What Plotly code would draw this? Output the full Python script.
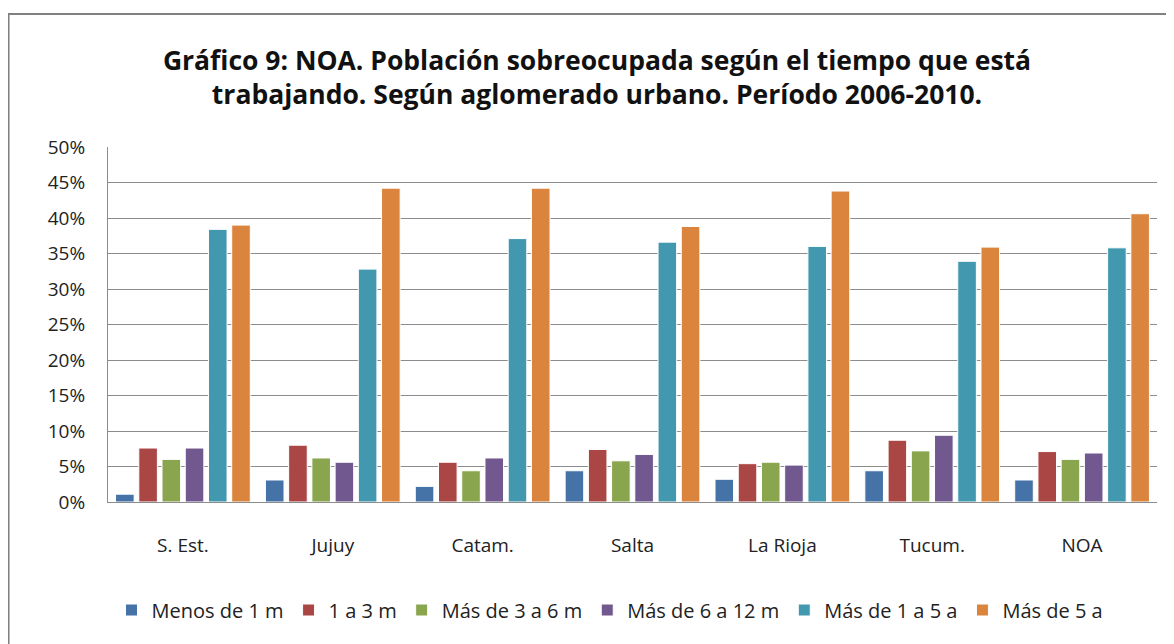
import plotly.graph_objects as go

categories = ["S. Est.", "Jujuy", "Catam.", "Salta", "La Rioja", "Tucum.", "NOA"]
series_names = ["Menos de 1 m", "1 a 3 m", "Más de 3 a 6 m", "Más de 6 a 12 m", "Más de 1 a 5 a", "Más de 5 a"]
menos_1m = [1.1, 3.1, 2.2, 4.4, 3.2, 4.4, 3.1]
de_1_a_3m = [7.6, 8.0, 5.6, 7.4, 5.4, 8.7, 7.1]
de_3_a_6m = [6.0, 6.2, 4.4, 5.8, 5.6, 7.2, 6.0]
de_6_a_12m = [7.6, 5.6, 6.2, 6.7, 5.2, 9.4, 6.9]
de_1_a_5a = [38.4, 32.8, 37.1, 36.6, 36.0, 33.9, 35.8]
mas_5a = [39.0, 44.2, 44.2, 38.8, 43.8, 35.9, 40.6]
yticks = [0, 5, 10, 15, 20, 25, 30, 35, 40, 45, 50]
ytick_labels = [f"{v}%" for v in yticks]

values = [menos_1m, de_1_a_3m, de_3_a_6m, de_6_a_12m, de_1_a_5a, mas_5a]
colors = ["#4572A7", "#AA4643", "#89A54E", "#71588F", "#4198AF", "#DB843D"]

font_family = "'Open Sans', Lato, sans-serif"

fig = go.Figure()
for name, vals, col in zip(series_names, values, colors):
    fig.add_trace(go.Bar(
        x=categories, y=vals, name=name,
        marker=dict(color=col, line=dict(color="white", width=1)),
    ))

# page is offset by the default 8px body margin
OFF = 8
W, H = 1174 - OFF, 644 - OFF
ml, mt = 108 - OFF, 147 - OFF
pw, ph = 1049, 355
mr = W - ml - pw
mb = H - mt - ph
base = mt + ph  # fig pixel of y=0

fig.update_layout(
    width=W, height=H,
    margin=dict(l=ml, r=mr, t=mt, b=mb),
    paper_bgcolor="white", plot_bgcolor="white",
    barmode="group", bargap=0.07, bargroupgap=0.2,
    font=dict(family=font_family, size=19, color="#222222"),
    title=dict(
        text="<b>Gráfico 9: NOA. Población sobreocupada según el tiempo que está<br>trabajando. Según aglomerado urbano. Período 2006-2010.</b>",
        x=(597 - OFF) / W, xanchor="center", y=1 - (70 - OFF) / H, yanchor="middle",
        font=dict(family=font_family, size=26.5, color="#111111"),
    ),
    xaxis=dict(
        showline=True, linecolor="#8c8c8c", linewidth=1,
        ticks="", tickfont=dict(size=19, color="#222222"),
        showgrid=False, ticklabelstandoff=26,
    ),
    yaxis=dict(
        range=[0, 50], tickvals=yticks, ticktext=ytick_labels,
        showgrid=True, gridcolor="#8c8c8c", gridwidth=1,
        showline=True, linecolor="#8c8c8c", linewidth=1,
        ticks="", tickfont=dict(size=19, color="#222222"),
        zeroline=False, ticklabelstandoff=18,
    ),
    legend=dict(
        orientation="h", x=(610 - OFF - ml) / pw, xanchor="center",
        y=-((610 - OFF) - base) / ph, yanchor="middle",
        font=dict(size=20, color="#222222"), traceorder="normal",
    ),
    showlegend=True,
)

fig.add_shape(
    type="rect", xref="paper", yref="paper",
    x0=(8 - OFF - ml) / pw + 0.0005, x1=(1173 - OFF - ml) / pw,
    y0=-(H + 5 - base) / ph, y1=(base - (14 - OFF)) / ph,
    line=dict(color="#808080", width=2), fillcolor="rgba(0,0,0,0)", layer="below",
)

fig.write_html("out.html")
